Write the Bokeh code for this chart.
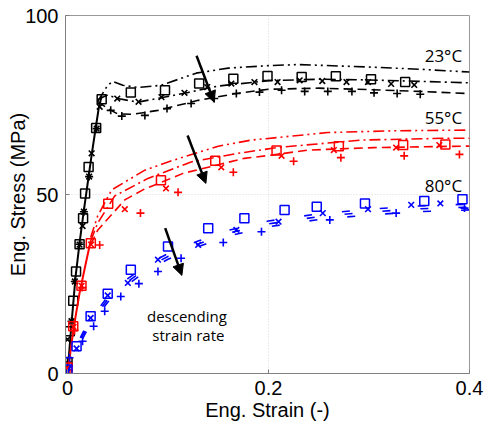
from bokeh.plotting import figure
from bokeh.models import Range1d, FixedTicker, Label, Arrow, NormalHead
from bokeh.embed import file_html
from bokeh.resources import INLINE

# ---------------- data ----------------
# 23 C (black)
t23_sq_x = [0.0, 0.0023, 0.0057, 0.0085, 0.012, 0.0155, 0.0175, 0.021, 0.0285, 0.034, 0.063, 0.097, 0.131, 0.165, 0.199, 0.233, 0.267, 0.302, 0.336]
t23_sq_y = [3.2, 11.8, 20.3, 28.5, 36.1, 43.4, 50.3, 57.7, 68.6, 76.6, 78.5, 79.1, 81.0, 82.3, 83.1, 82.8, 83.0, 82.2, 81.4]
t23_x_x = [0.0, 0.004, 0.0073, 0.012, 0.015, 0.0163, 0.0215, 0.024, 0.029, 0.032, 0.0495, 0.0707, 0.0935, 0.1164, 0.139, 0.163, 0.186, 0.209, 0.231, 0.2535, 0.2776, 0.299, 0.322, 0.345]
t23_x_y = [9.5, 14.6, 25.7, 36.0, 41.2, 45.2, 55.0, 61.5, 68.4, 74.5, 76.8, 75.9, 77.2, 78.4, 80.0, 81.0, 81.4, 81.4, 81.9, 81.7, 81.4, 81.4, 80.9, 80.6]
t23_p_x = [0.0, 0.004, 0.0073, 0.012, 0.0163, 0.0215, 0.029, 0.043, 0.054, 0.077, 0.099, 0.123, 0.146, 0.168, 0.191, 0.213, 0.236, 0.259, 0.283, 0.305, 0.328, 0.351]
t23_p_y = [3.2, 14.6, 25.7, 36.1, 45.2, 55.0, 68.4, 73.5, 71.9, 72.1, 74.0, 75.4, 76.8, 78.2, 78.6, 79.1, 78.8, 78.8, 78.8, 78.4, 78.2, 78.0]
t23_rise_x = [0.0, 0.004, 0.008, 0.012, 0.016, 0.020, 0.024, 0.028, 0.031, 0.034]
t23_rise_y = [0.0, 14.0, 27.0, 36.5, 45.0, 53.0, 61.0, 68.5, 74.0, 77.5]
t23_m1_x = [0.03, 0.04, 0.045, 0.055, 0.07, 0.093, 0.128, 0.16, 0.2, 0.23, 0.3, 0.35, 0.4]
t23_m1_y = [76.0, 80.5, 81.6, 80.5, 79.9, 80.5, 83.9, 85.3, 86.0, 86.3, 85.6, 85.0, 84.2]
t23_m2_x = [0.03, 0.04, 0.05, 0.07, 0.093, 0.12, 0.15, 0.2, 0.25, 0.3, 0.35, 0.4]
t23_m2_y = [76.5, 77.8, 76.8, 75.8, 77.0, 78.5, 80.3, 81.8, 82.2, 82.0, 81.6, 81.2]
t23_m3_x = [0.03, 0.04, 0.05, 0.065, 0.09, 0.13, 0.17, 0.2, 0.25, 0.3, 0.35, 0.4]
t23_m3_y = [76.0, 74.0, 72.5, 72.4, 73.5, 76.3, 78.3, 79.4, 79.7, 79.3, 78.8, 78.2]

# 55 C (red)
t55_sq_x = [0.0, 0.0057, 0.0139, 0.0232, 0.0405, 0.093, 0.147, 0.208, 0.27, 0.334, 0.376]
t55_sq_y = [1.7, 13.2, 24.5, 36.4, 47.4, 54.0, 59.4, 62.3, 63.5, 63.8, 64.0]
t55_x_x = [0.0, 0.006, 0.014, 0.0235, 0.057, 0.098, 0.153, 0.213, 0.265, 0.327, 0.37]
t55_x_y = [1.5, 13.0, 24.5, 36.0, 45.9, 51.7, 57.6, 60.8, 62.4, 63.1, 63.8]
t55_p_x = [0.001, 0.007, 0.0145, 0.032, 0.0726, 0.11, 0.165, 0.225, 0.272, 0.335, 0.39]
t55_p_y = [1.0, 12.0, 24.0, 35.9, 44.8, 50.6, 56.2, 59.3, 60.3, 60.8, 61.2]
t55_rise_x = [0.0, 0.006, 0.012, 0.018, 0.023]
t55_rise_y = [0.0, 12.5, 22.5, 30.5, 37.0]
t55_m1_x = [0.023, 0.03, 0.044, 0.077, 0.1, 0.15, 0.183, 0.208, 0.259, 0.325, 0.4]
t55_m1_y = [38.0, 44.0, 51.3, 56.8, 59.1, 63.5, 65.2, 65.9, 67.3, 67.8, 68.0]
t55_m2_x = [0.023, 0.03, 0.047, 0.08, 0.123, 0.17, 0.208, 0.292, 0.375, 0.4]
t55_m2_y = [37.0, 42.0, 49.6, 54.5, 59.1, 61.5, 63.1, 65.2, 65.7, 65.7]
t55_m3_x = [0.023, 0.03, 0.057, 0.075, 0.115, 0.176, 0.203, 0.239, 0.305, 0.392, 0.4]
t55_m3_y = [36.0, 40.0, 48.5, 51.3, 55.9, 60.1, 61.0, 62.4, 63.1, 63.5, 63.5]

# 80 C (blue)
t80_sq_x = [0.0, 0.009, 0.023, 0.040, 0.063, 0.100, 0.140, 0.176, 0.216, 0.248, 0.296, 0.355, 0.393]
t80_sq_y = [1.1, 7.6, 16.0, 22.3, 29.0, 35.5, 40.6, 43.4, 45.7, 46.6, 47.5, 48.2, 48.7]
t80_x_x = [0.0, 0.009, 0.023, 0.040, 0.060, 0.090, 0.130, 0.168, 0.210, 0.254, 0.299, 0.342, 0.371]
t80_x_y = [0.5, 7.0, 15.5, 21.8, 25.3, 31.8, 35.9, 40.1, 42.4, 44.8, 45.9, 47.1, 47.5]
t80_p_x = [0.002, 0.015, 0.026, 0.037, 0.053, 0.071, 0.090, 0.113, 0.155, 0.193, 0.261, 0.327, 0.395]
t80_p_y = [4.4, 9.0, 13.2, 17.4, 21.5, 25.1, 28.5, 32.2, 36.6, 39.6, 42.9, 44.8, 46.2]
t80_m_x = [0.0, 0.01, 0.02, 0.04, 0.06, 0.08, 0.1, 0.13, 0.16, 0.2, 0.25, 0.3, 0.35, 0.4]
t80_m1_y = [0.0, 8.5, 14.0, 21.5, 26.5, 30.5, 33.5, 37.0, 40.0, 42.6, 44.6, 45.9, 46.8, 47.3]
t80_m2_y = [0.0, 7.8, 13.2, 20.7, 25.7, 29.7, 32.7, 36.2, 39.2, 41.8, 43.8, 45.1, 46.0, 46.5]
t80_m3_y = [0.0, 7.0, 12.4, 19.9, 24.9, 28.9, 31.9, 35.4, 38.4, 41.0, 43.0, 44.3, 45.2, 45.7]

x_ticks = [0, 0.2, 0.4]
y_ticks = [0, 50, 100]
temp_labels = ["23°C", "55°C", "80°C"]
note_lines = ["descending", "strain rate"]

# ---------------- figure ----------------
p = figure(width=486, height=423, x_range=Range1d(-0.002, 0.4), y_range=Range1d(0, 100),
           output_backend="svg", toolbar_location=None,
           min_border_left=65, min_border_right=17, min_border_top=15, min_border_bottom=48)
p.background_fill_color = "white"
p.border_fill_color = "white"
p.outline_line_color = "#999999"

p.xaxis.ticker = FixedTicker(ticks=x_ticks)
p.yaxis.ticker = FixedTicker(ticks=y_ticks)
p.xgrid.ticker = FixedTicker(ticks=[x_ticks[1]])
p.ygrid.ticker = FixedTicker(ticks=[y_ticks[1]])
p.grid.grid_line_color = "#d9d9d9"
p.grid.grid_line_dash = "1 2"

p.xaxis.axis_label = "Eng. Strain (-)"
p.yaxis.axis_label = "Eng. Stress (MPa)"
for ax in (p.xaxis, p.yaxis):
    ax.axis_label_text_font = "Liberation Sans"
    ax.axis_label_text_font_size = "20px"
    ax.axis_label_text_font_style = "normal"
    ax.axis_label_text_color = "black"
    ax.major_label_text_font = "Liberation Sans"
    ax.major_label_text_font_size = "20px"
    ax.major_label_text_color = "black"
    ax.axis_line_color = "#808080"
    ax.major_tick_line_color = "#808080"
    ax.major_tick_in = 4
    ax.major_tick_out = 0
    ax.minor_tick_line_color = None
    ax.major_label_standoff = 7
p.yaxis.axis_label_standoff = -7
p.xaxis.axis_label_standoff = 1
p.xaxis.major_label_overrides = {0: "0", 0.2: "0.2", 0.4: "0.4"}

BLK, RED, BLU = "black", "#ff0000", "#0000ff"
D3, D2, D1 = "11 4 2 4 2 4", "11 4 2 4", "9 5"

# 23 C
p.line(t23_rise_x, t23_rise_y, color=BLK, line_width=2)
p.line(t23_m1_x, t23_m1_y, color=BLK, line_width=1.6, line_dash=D3)
p.line(t23_m2_x, t23_m2_y, color=BLK, line_width=1.6, line_dash=D2)
p.line(t23_m3_x, t23_m3_y, color=BLK, line_width=1.6, line_dash=D1)
p.scatter(t23_sq_x, t23_sq_y, marker="square", size=9, line_color=BLK, fill_color=None, line_width=1.5)
p.scatter(t23_x_x, t23_x_y, marker="x", size=8, line_color=BLK, line_width=1.6)
p.scatter(t23_p_x, t23_p_y, marker="cross", size=8, line_color=BLK, line_width=1.6)

# 55 C
p.line(t55_rise_x, t55_rise_y, color=RED, line_width=2)
p.line(t55_m1_x, t55_m1_y, color=RED, line_width=1.6, line_dash=D3)
p.line(t55_m2_x, t55_m2_y, color=RED, line_width=1.6, line_dash=D2)
p.line(t55_m3_x, t55_m3_y, color=RED, line_width=1.6, line_dash=D1)
p.scatter(t55_sq_x, t55_sq_y, marker="square", size=9, line_color=RED, fill_color=None, line_width=1.5)
p.scatter(t55_x_x, t55_x_y, marker="x", size=8, line_color=RED, line_width=1.6)
p.scatter(t55_p_x, t55_p_y, marker="cross", size=8, line_color=RED, line_width=1.6)

# 80 C
p.line(t80_m_x, t80_m1_y, color=BLU, line_width=1.6, line_dash="8 30")
p.line(t80_m_x, t80_m2_y, color=BLU, line_width=1.6, line_dash="8 30")
p.line(t80_m_x, t80_m3_y, color=BLU, line_width=1.6, line_dash="8 30")
p.scatter(t80_sq_x, t80_sq_y, marker="square", size=9, line_color=BLU, fill_color=None, line_width=1.5)
p.scatter(t80_x_x, t80_x_y, marker="x", size=8, line_color=BLU, line_width=1.6)
p.scatter(t80_p_x, t80_p_y, marker="cross", size=8, line_color=BLU, line_width=1.6)

# temperature labels
for txt, yy in zip(temp_labels, [88.7, 71.5, 52.6]):
    p.add_layout(Label(x=0.374, y=yy, text=txt, text_align="center", text_baseline="middle",
                       text_font="Open Sans", text_font_size="17px", text_color="black"))

for txt, xx, yy in zip(note_lines, [0.1188, 0.1203], [16.0, 10.7]):
    p.add_layout(Label(x=xx, y=yy, text=txt, text_align="center", text_baseline="middle",
                       text_font="Open Sans", text_font_size="15px", text_color="black"))

# arrows
for (xs, ys, xe, ye) in [(0.1284, 88.75, 0.1459, 75.8), (0.1195, 66.5, 0.1377, 53.1), (0.0972, 40.6, 0.1138, 27.4)]:
    p.add_layout(Arrow(end=NormalHead(size=11, fill_color="black", line_color="black", line_width=1),
                       x_start=xs, y_start=ys, x_end=xe, y_end=ye, line_width=2.5, line_color="black"))

open("out.html", "w").write(file_html(p, INLINE))
